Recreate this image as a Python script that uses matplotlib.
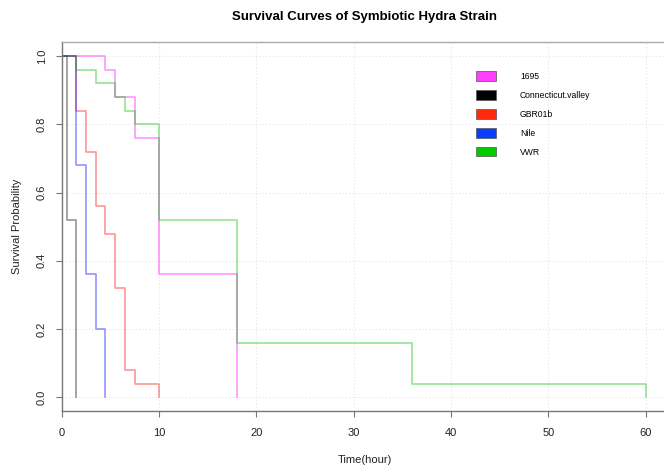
import matplotlib
matplotlib.use("Agg")
import matplotlib.pyplot as plt
from matplotlib.patches import Patch

plt.rcParams['font.family'] = ['Liberation Sans', 'DejaVu Sans']

# ---- data ----
strains = ["1695", "Connecticut.valley", "GBR01b", "Nile", "VWR"]
legend_colors = ["#FF40FF", "#000000", "#FF2A10", "#0A3CFF", "#00CC00"]
line_colors = ["#FF00FF", "#000000", "#FF0000", "#0000FF", "#00BB00"]

t_1695 = [0, 4.5, 5.5, 7.5, 10, 18]
s_1695 = [1.0, 0.96, 0.88, 0.76, 0.36, 0.0]
t_ct = [0, 0.5, 1.5]
s_ct = [1.0, 0.52, 0.0]
t_gbr = [0, 1.5, 2.5, 3.5, 4.5, 5.5, 6.5, 7.5, 10]
s_gbr = [1.0, 0.84, 0.72, 0.56, 0.48, 0.32, 0.08, 0.04, 0.0]
t_nile = [0, 1.5, 2.5, 3.5, 4.5]
s_nile = [1.0, 0.68, 0.36, 0.20, 0.0]
t_vwr = [0, 1.5, 3.5, 5.5, 6.5, 7.5, 10, 18, 36, 60]
s_vwr = [1.0, 0.96, 0.92, 0.88, 0.84, 0.80, 0.52, 0.16, 0.04, 0.0]

times = [t_1695, t_ct, t_gbr, t_nile, t_vwr]
survs = [s_1695, s_ct, s_gbr, s_nile, s_vwr]

x_ticks = [0, 10, 20, 30, 40, 50, 60]
y_ticks = [0.0, 0.2, 0.4, 0.6, 0.8, 1.0]

W, H = 664, 466
fig = plt.figure(figsize=(W / 100, H / 100), dpi=100)
ax = fig.add_axes([61.7 / W, 55 / H, (669 - 61.7) / W, (411 - 41.7) / H])

for x in x_ticks[1:]:
    ax.axvline(x, color="#e4e4e4", lw=0.8, ls=(0, (1, 2)), zorder=0)
for y in y_ticks:
    ax.axhline(y, color="#e4e4e4", lw=0.8, ls=(0, (1, 2)), zorder=0)

for t, s, c in zip(times, survs, line_colors):
    ax.step(t, s, where="post", color=c, lw=1.2, alpha=0.42, zorder=2)

ax.set_xlim(0, 62.4)
ax.set_ylim(-0.04, 1.042)
ax.set_xticks(x_ticks)
ax.set_xticklabels([str(v) for v in x_ticks])
ax.set_yticks(y_ticks)
ax.set_yticklabels([f"{v:.1f}" for v in y_ticks])

for sp in ["top", "right"]:
    ax.spines[sp].set_color("#aaaaaa")
    ax.spines[sp].set_linewidth(1.0)
ax.spines["left"].set_color("#777777")
ax.spines["bottom"].set_color("#777777")
ax.spines["left"].set_linewidth(1.0)
ax.spines["bottom"].set_linewidth(1.0)

ax.tick_params(axis="both", length=4.2, width=0.8, color="#777777",
               labelsize=8, labelcolor="#222222")
ax.tick_params(axis="x", pad=8)
ax.tick_params(axis="y", pad=10)
for lab in ax.get_yticklabels():
    lab.set_rotation(90)
    lab.set_va("center")
    lab.set_ha("center")

ax.set_xlabel("Time(hour)", fontsize=8, color="#222222", labelpad=12)
ax.set_ylabel("Survival Probability", fontsize=8, color="#222222", labelpad=11)
fig.text(365 / W, 1 - 16.7 / H, "Survival Curves of Symbiotic Hydra Strain",
         ha="center", va="center", fontsize=9.5, fontweight="bold")

handles = [Patch(facecolor=c, edgecolor="#555555", linewidth=0.5) for c in legend_colors]
leg = fig.legend(handles, strains, loc="upper left",
                 bbox_to_anchor=(476 / W, 1 - 71.5 / H), bbox_transform=fig.transFigure,
                 frameon=False, fontsize=6.2, handlelength=2.3, handleheight=1.3,
                 handletextpad=2.8, labelspacing=1.08, borderpad=0, borderaxespad=0)

fig.savefig("out.png", dpi=100)
